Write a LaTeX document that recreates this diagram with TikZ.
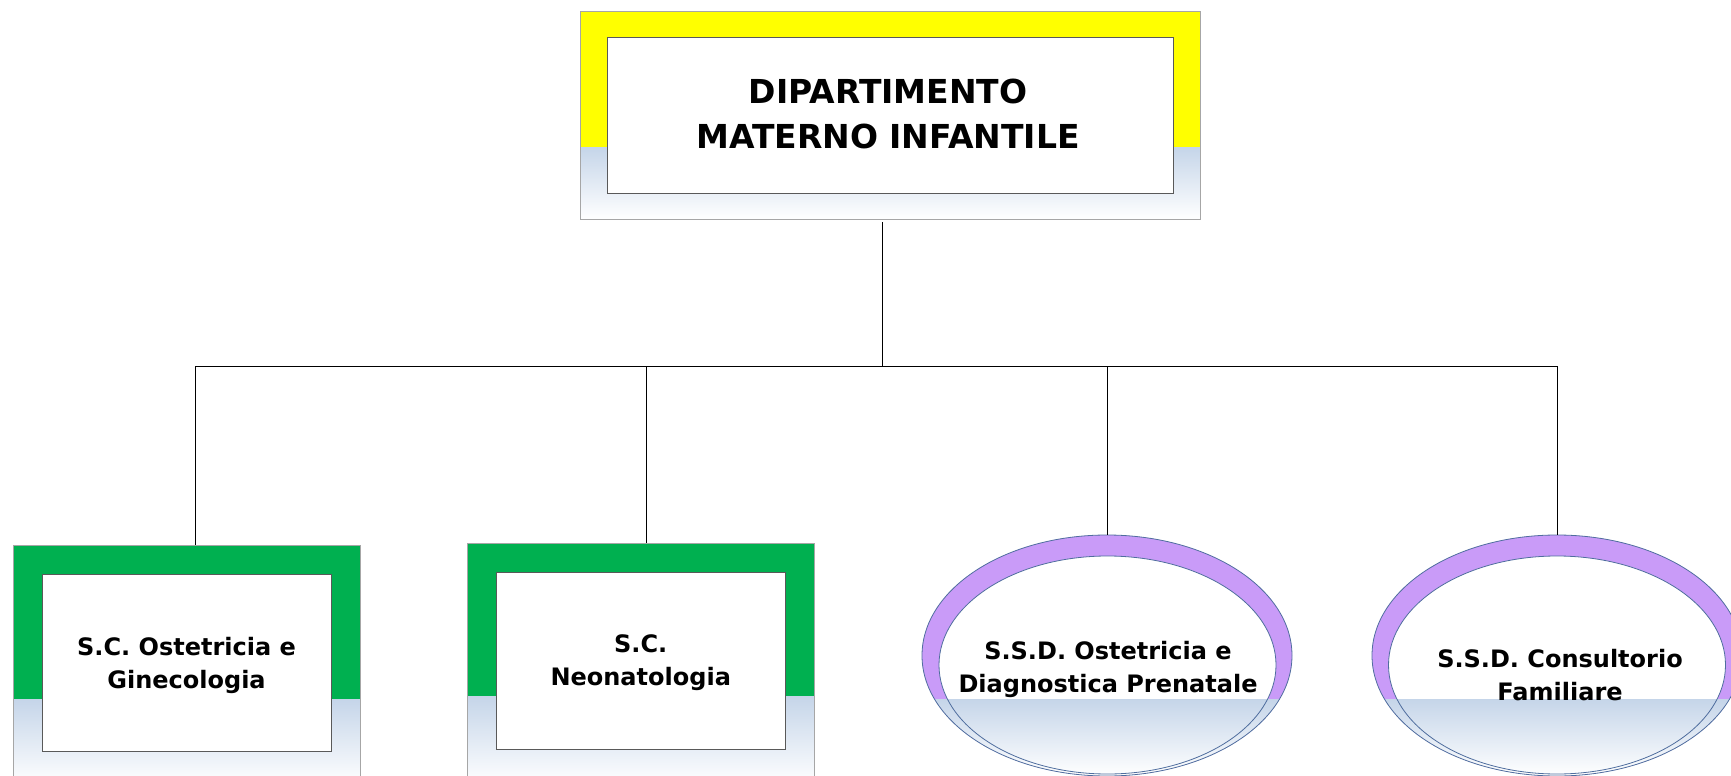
\documentclass[tikz,border=0pt]{standalone}
\usepackage{fontspec}
\setmainfont{DejaVu Sans}
\usetikzlibrary{shapes.geometric}
\definecolor{giallo}{HTML}{FFFF00}
\definecolor{verde}{HTML}{00B050}
\definecolor{lilla}{HTML}{C99BF8}
\definecolor{celeste}{HTML}{C5D5E9}
\definecolor{bordo}{HTML}{A6A6A6}
\definecolor{blubordo}{HTML}{4F6D9E}
\tikzset{
  cornice/.style={inner sep=0pt,outer sep=0pt},
  anello/.style={ellipse,inner sep=0pt,outer sep=0pt,fill=lilla},
  inbox/.style={draw=black!65,fill=white,line width=0.5pt,inner sep=0pt},
  txt/.style={align=center,font=\fontsize{12}{16.5}\selectfont\bfseries},
  wire/.style={line width=0.5pt},
  sfuma/.style={top color=celeste,bottom color=white},
}
\begin{document}
\begin{tikzpicture}[x=0.5pt,y=-0.5pt]
\useasboundingbox (0,0) rectangle (1731,776);
\clip (0,0) rectangle (1731,776);
%
\node[cornice,fill=giallo,minimum width=310pt,minimum height=104pt] (dip) at (890,115) {};
\shade[sfuma] (dip.west|-0,147) rectangle (dip.south east);
\draw[bordo,line width=0.5pt] (dip.north west) rectangle (dip.south east);
\node[inbox,minimum width=283pt,minimum height=78pt] (dipin) at (890,115) {};
\node[txt,font=\fontsize{16.5}{22.5}\selectfont\bfseries] (diptxt) at (888,114) {DIPARTIMENTO\\MATERNO INFANTILE};
%
\node[cornice,fill=verde,minimum width=173.5pt,minimum height=120pt] (sco) at (186.5,665) {};
\shade[sfuma] (sco.west|-0,699) rectangle (sco.south east);
\draw[bordo,line width=0.5pt] (sco.north west) rectangle (sco.south east);
\node[inbox,minimum width=144.5pt,minimum height=88.5pt] (scoin) at (186.5,662.5) {};
\node[txt] (scotxt) at (186.5,665) {S.C. Ostetricia e\\Ginecologia};
%
\node[cornice,fill=verde,minimum width=173.25pt,minimum height=121pt] (scn) at (640.75,664) {};
\shade[sfuma] (scn.west|-0,696) rectangle (scn.south east);
\draw[bordo,line width=0.5pt] (scn.north west) rectangle (scn.south east);
\node[inbox,minimum width=144.25pt,minimum height=88.5pt] (scnin) at (640.75,660.5) {};
\node[txt] (scntxt) at (640.75,663) {S.C.\\Neonatologia};
%
\node[anello,minimum width=185pt,minimum height=120.5pt] (ssdo) at (1107,655.5) {};
\fill[white] (1107.5,665) ellipse (168.5 and 109);
\begin{scope}
\clip (ssdo.center) ellipse (185 and 120.5);
\shade[sfuma] (ssdo.west|-0,699) rectangle (ssdo.east|-ssdo.south);
\end{scope}
\draw[blubordo,line width=0.4pt] (ssdo.center) ellipse (185 and 120.5) (1107.5,665) ellipse (168.5 and 109);
\node[txt] (ssdotxt) at (1108,669) {S.S.D. Ostetricia e\\Diagnostica Prenatale};
%
\node[anello,minimum width=185pt,minimum height=120.5pt] (ssdc) at (1557,655.5) {};
\fill[white] (1557,665) ellipse (168.5 and 109);
\begin{scope}
\clip (ssdc.center) ellipse (185 and 120.5);
\shade[sfuma] (ssdc.west|-0,699) rectangle (ssdc.east|-ssdc.south);
\end{scope}
\draw[blubordo,line width=0.4pt] (ssdc.center) ellipse (185 and 120.5) (1557,665) ellipse (168.5 and 109);
\node[txt] (ssdctxt) at (1560,675) {S.S.D. Consultorio\\Familiare};
%
\coordinate (hub) at (882,366);
\coordinate (b1) at (195,366);
\coordinate (b2) at (646,366);
\coordinate (b3) at (1107,366);
\coordinate (b4) at (1557,366);
\draw[wire,shorten <=1.5pt] (dip.south-|hub)--(hub);
\draw[wire] (b1)--(b4);
\draw[wire] (b1)--(b1|-sco.north);
\draw[wire] (b2)--(b2|-scn.north);
\draw[wire] (b3)--(ssdo.north);
\draw[wire] (b4)--(ssdc.north);
\end{tikzpicture}
\end{document}
